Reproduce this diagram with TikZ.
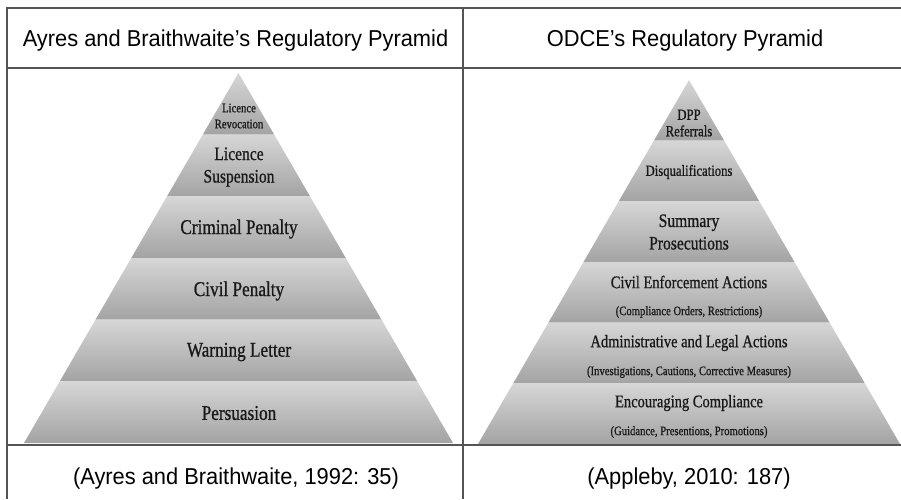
\documentclass[tikz,border=0pt]{standalone}
\usepackage{fontspec}
\setmainfont{Liberation Sans}[FakeStretch=0.95]
\newfontfamily\pyrfont{Liberation Serif}[FakeStretch=0.82, FakeBold=0.8]

\definecolor{rulegray}{gray}{0.33}
\definecolor{bandtop}{gray}{0.84}
\definecolor{bandbot}{gray}{0.64}
\definecolor{ink}{gray}{0.1}

\begin{document}
\begin{tikzpicture}[
    x=1pt, y=-1pt,
    rule/.style={draw=rulegray, line width=1.6pt},
    band/.style={top color=bandtop, bottom color=bandbot},
    head/.style={font=\fontsize{23}{27}\selectfont, anchor=base},
    tier/.style={font=\pyrfont\fontsize{21}{24}\selectfont, text=ink, align=center},
    tiertwo/.style={font=\pyrfont\fontsize{19}{22.5}\selectfont, text=ink, align=center},
    tiermid/.style={font=\pyrfont\fontsize{17.7}{21}\selectfont, text=ink, align=center},
    tiersmall/.style={font=\pyrfont\fontsize{15.5}{16.5}\selectfont, text=ink, align=center},
    tiernote/.style={font=\pyrfont\fontsize{13}{16}\selectfont, text=ink, align=center}
  ]
    \useasboundingbox (0,0) rectangle (901,499);

    % six shaded tiers per pyramid: centre x / apex y / base y / half base
    \foreach \cx/\ty/\by/\hw in {238.5/73/443/214.5, 689/80/444/211} {
      \foreach \i in {0,...,5} {
        \pgfmathsetmacro\ya{\ty+(\by-\ty)*\i/6}
        \pgfmathsetmacro\yb{\ty+(\by-\ty)*(\i+1)/6}
        \pgfmathsetmacro\wa{\hw*\i/6}
        \pgfmathsetmacro\wb{\hw*(\i+1)/6}
        \shade[band] (\cx-\wa,\ya) -- (\cx+\wa,\ya) -- (\cx+\wb,\yb) -- (\cx-\wb,\yb) -- cycle;
      }
    }

    % table rules
    \draw[rule] (901,8) -- (7,8) -- (7,499);
    \draw[rule] (463,8) -- (463,499);
    \draw[rule] (7,68) -- (901,68);
    \draw[rule] (7,445) -- (901,445);

    \node[head] (hleft)  at (235.5,46) {Ayres and Braithwaite’s Regulatory Pyramid};
    \node[head] (hright) at (685,46)   {ODCE’s Regulatory Pyramid};

    \node[tiernote] (revoke)   at (239,116) {Licence\\Revocation};
    \node[tiertwo]  (suspend)  at (239,167) {Licence\\Suspension};
    \node[tier]     (criminal) at (239,229) {Criminal Penalty};
    \node[tier]     (civil)    at (239,291) {Civil Penalty};
    \node[tier]     (warning)  at (239,352) {Warning Letter};
    \node[tier]     (persuade) at (239,413) {Persuasion};

    \node[tiersmall] (dpp)       at (689,123) {DPP\\Referrals};
    \node[tiersmall] (disq)      at (689,172) {Disqualifications};
    \node[tiertwo]   (summary)   at (689,232) {Summary\\Prosecutions};
    \node[tiermid]   (civenf)    at (689,282) {Civil Enforcement Actions};
    \node[tiernote]  (civnote)   at (689,312) {(Compliance Orders, Restrictions)};
    \node[tiermid]   (admin)     at (689,343) {Administrative and Legal Actions};
    \node[tiernote]  (adminnote) at (689,372) {(Investigations, Cautions, Corrective Measures)};
    \node[tiermid]   (encourage) at (689,403) {Encouraging Compliance};
    \node[tiernote]  (encnote)   at (689,432) {(Guidance, Presentions, Promotions)};

    \node[head] (fleft)  at (236,484) {(Ayres and Braithwaite, 1992: 35)};
    \node[head] (fright) at (689,484) {(Appleby, 2010: 187)};
  \end{tikzpicture}
\end{document}
